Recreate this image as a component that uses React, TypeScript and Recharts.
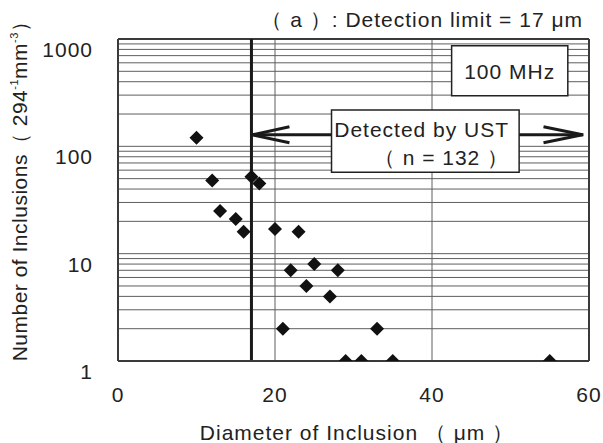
import { CartesianGrid, Label, ReferenceArea, ReferenceLine, Scatter, ScatterChart, XAxis, YAxis } from 'recharts';

// diameter of inclusion (µm) and number of inclusions
const diameters = [10, 12, 13, 15, 16, 17, 18, 20, 21, 22, 23, 24, 25, 27, 28, 29, 31, 33, 35, 55];
const counts = [120, 48, 25, 21, 16, 52, 45, 17, 2, 7, 16, 5, 8, 4, 7, 1, 1, 2, 1, 1];

const xTicks = [0, 20, 40, 60];
const yDecades = [1, 10, 100, 1000];
const minorSteps = [2, 3, 4, 5, 6, 7, 8, 9];
const yTicks = [...yDecades, ...yDecades.slice(0, 3).flatMap((d) => minorSteps.map((s) => s * d))].sort((a, b) => a - b);

const detectionLimit = 17;

const data = diameters.map((d, i) => ({ d, n: counts[i] }));

const font = '"Liberation Sans", Arial, Helvetica, sans-serif';
const ink = '#222';
const spacing = 1;

const Diamond = (props: any) => {
  const { cx, cy } = props;
  const r = 7;
  return <polygon points={`${cx},${cy - r} ${cx + r},${cy} ${cx},${cy + r} ${cx - r},${cy}`} fill="#111" />;
};

const YTick = ({ x, y, payload }: any) =>
  yDecades.includes(payload.value) ? (
    <text x={x} y={y} dy={18} textAnchor="end" fontSize={21} letterSpacing={spacing} fill={ink} fontFamily={font}>
      {payload.value}
    </text>
  ) : null;

const XTick = ({ x, y, payload }: any) => (
  <text x={x} y={y} dy={39} textAnchor="middle" fontSize={21} letterSpacing={spacing} fill={ink} fontFamily={font}>
    {payload.value}
  </text>
);

const arrowLeft = (p: any) => (
  <g stroke="#1a1a1a" strokeWidth={3} fill="none">
    <line x1={p.x1} y1={p.y1} x2={p.x2} y2={p.y2} />
    <polyline points={`${p.x1 + 38},${p.y1 - 8} ${p.x1 + 1},${p.y1} ${p.x1 + 38},${p.y1 + 8}`} />
  </g>
);

const arrowRight = (p: any) => (
  <g stroke="#1a1a1a" strokeWidth={3} fill="none">
    <line x1={p.x1} y1={p.y1} x2={p.x2} y2={p.y2} />
    <polyline points={`${p.x2 - 40},${p.y2 - 8} ${p.x2 - 1},${p.y2} ${p.x2 - 40},${p.y2 + 8}`} />
  </g>
);

export default function App() {
  return (
    <div style={{ position: 'absolute', left: 0, top: 0, width: 603, height: 443, background: '#fff' }}>
      <ScatterChart width={603} height={443} margin={{ top: 39, right: 14, bottom: 0, left: 0 }} style={{ fontFamily: font }}>
        <CartesianGrid stroke="#5e5e5e" strokeWidth={1} />
        <XAxis
          dataKey="d"
          type="number"
          domain={[0, 60]}
          ticks={xTicks}
          interval={0}
          height={82}
          tickLine={false}
          tickSize={0}
          axisLine={{ stroke: '#3a3a3a', strokeWidth: 2 }}
          tick={<XTick />}
        />
        <YAxis
          dataKey="n"
          type="number"
          scale="log"
          domain={[1, 1000]}
          allowDataOverflow
          ticks={yTicks}
          interval={0}
          width={118}
          tickLine={false}
          tickSize={0}
          tickMargin={25}
          axisLine={{ stroke: '#3a3a3a', strokeWidth: 2 }}
          tick={<YTick />}
        />
        <ReferenceLine y={1000} stroke="#3a3a3a" strokeWidth={2} />
        <ReferenceLine x={60} stroke="#3a3a3a" strokeWidth={2} />
        <ReferenceLine x={detectionLimit} stroke="#1a1a1a" strokeWidth={3} />
        <ReferenceLine segment={[{ x: detectionLimit, y: 128 }, { x: 27.2, y: 128 }]} shape={arrowLeft} />
        <ReferenceLine segment={[{ x: 51.1, y: 128 }, { x: 59.3, y: 128 }]} shape={arrowRight} />
        <ReferenceArea x1={42.5} x2={57.3} y1={296} y2={866} fill="#fff" fillOpacity={1} stroke={ink} strokeWidth={1.5}>
          <Label
            content={({ viewBox }: any) => (
              <text x={viewBox.x + viewBox.width / 2} y={viewBox.y + 33} textAnchor="middle" fontSize={21} letterSpacing={spacing} fill={ink} fontFamily={font}>
                100 MHz
              </text>
            )}
          />
        </ReferenceArea>
        <ReferenceArea x1={27.2} x2={51.1} y1={57.3} y2={218} fill="#fff" fillOpacity={1} stroke={ink} strokeWidth={1.5}>
          <Label
            content={({ viewBox }: any) => (
              <text textAnchor="end" fontSize={21} letterSpacing={spacing} fill={ink} fontFamily={font}>
                <tspan x={viewBox.x + viewBox.width - 10} y={viewBox.y + 27}>Detected by UST</tspan>
                <tspan x={viewBox.x + viewBox.width - 10} y={viewBox.y + 55}>（ n = 132 ）</tspan>
              </text>
            )}
          />
        </ReferenceArea>
        <Scatter data={data} dataKey="n" shape={<Diamond />} isAnimationActive={false} />
      </ScatterChart>
      <svg width={603} height={443} style={{ position: 'absolute', left: 0, top: 0, pointerEvents: 'none' }} fontFamily={font} fill={ink}>
        <text x={583} y={27} textAnchor="end" fontSize={21} letterSpacing={spacing}>
          （ a ）: Detection limit = 17 μm
        </text>
        <text x={357} y={440} textAnchor="middle" fontSize={21} letterSpacing={spacing}>
          Diameter of Inclusion （ μm ）
        </text>
        <text x={27} y={186} textAnchor="middle" fontSize={21} letterSpacing={0.5} transform="rotate(-90 27 186)">
          Number of Inclusions（ 294
          <tspan fontSize={11} dy={-9}>-1</tspan>
          <tspan dy={9}>mm</tspan>
          <tspan fontSize={11} dy={-9}>-3</tspan>
          <tspan dy={9}>）</tspan>
        </text>
      </svg>
    </div>
  );
}
